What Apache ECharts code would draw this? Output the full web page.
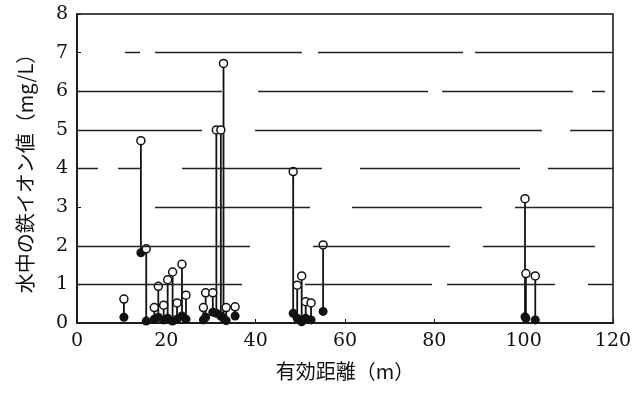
<!DOCTYPE html>
<html>
<head>
<meta charset="utf-8">
<script src="https://cdn.jsdelivr.net/npm/echarts@6/dist/echarts.min.js"></script>
<style>
  html, body { margin: 0; padding: 0; background: #fff; }
  #chart { width: 641px; height: 396px; }
</style>
</head>
<body>
<div id="chart"></div>
<script>
// effective distance (m) of each sampling point
const distances = [10.5, 14.3, 15.5, 17.3, 18.2, 19.4, 20.3, 21.4, 22.4, 23.5, 24.4,
  28.3, 28.8, 30.4, 31.2, 32.2, 32.8, 33.4, 35.4,
  48.4, 49.3, 50.3, 51.2, 52.4, 55.1,
  100.3, 100.5, 102.6];
// open circles (upper value, mg/L)
const openValues = [0.62, 4.72, 1.92, 0.40, 0.95, 0.46, 1.12, 1.32, 0.52, 1.52, 0.72,
  0.40, 0.78, 0.78, 5.0, 5.0, 6.72, 0.40, 0.42,
  3.92, 0.98, 1.22, 0.55, 0.52, 2.02,
  3.22, 1.28, 1.22];
// filled circles (lower value, mg/L)
const filledValues = [0.15, 1.82, 0.05, 0.10, 0.15, 0.08, 0.12, 0.05, 0.10, 0.18, 0.10,
  0.08, 0.15, 0.28, 0.25, 0.18, 0.12, 0.06, 0.18,
  0.25, 0.12, 0.03, 0.12, 0.08, 0.30,
  0.16, 0.12, 0.08];
const gridLevels = [1, 2, 3, 4, 5, 6, 7];

// broken horizontal rules, as dash patterns (px) along the plot width
const GRID_DASHES = {
  1: [165, 63, 127, 15, 108, 33, 25, 60],
  2: [173, 63, 137, 33, 112, 60],
  3: [0, 78, 155, 42, 130, 33, 98, 60],
  4: [21, 20, 22, 42, 140, 38, 160, 28, 65, 60],
  5: [125, 53, 287, 28, 43, 60],
  6: [145, 36, 170, 14, 131, 19, 13, 60],
  7: [0, 48, 15, 15, 147, 16, 145, 12, 138, 60],
};

const INK = '#111';
const TICK_FONT = { color: INK, fontSize: 19, fontFamily: 'DejaVu Serif' };
const CJK_FONT = 'Noto Sans CJK JP';

const chart = echarts.init(document.getElementById('chart'), null, { renderer: 'canvas' });

chart.setOption({
  animation: false,
  backgroundColor: '#fff',
  grid: {
    left: 77,
    right: 28,
    top: 14,
    bottom: 73,
    show: true,
    borderColor: INK,
    borderWidth: 1.5,
  },
  xAxis: {
    type: 'value',
    min: 0,
    max: 120,
    interval: 20,
    name: '有効距離（m）',
    nameLocation: 'middle',
    nameGap: 38,
    nameTextStyle: { color: INK, fontSize: 20, fontFamily: CJK_FONT },
    axisLine: { lineStyle: { color: INK, width: 1.5 } },
    axisTick: { inside: true, length: 4, lineStyle: { color: INK } },
    axisLabel: { ...TICK_FONT, margin: 9 },
    splitLine: { show: false },
  },
  yAxis: {
    type: 'value',
    min: 0,
    max: 8,
    interval: 1,
    name: '水中の鉄イオン値（mg/L）',
    nameLocation: 'middle',
    nameGap: 42,
    nameTextStyle: { color: INK, fontSize: 20, fontFamily: CJK_FONT },
    axisLine: { show: true, lineStyle: { color: INK, width: 1.5 } },
    axisTick: { show: true, inside: true, length: 4, lineStyle: { color: INK } },
    axisLabel: { ...TICK_FONT, margin: 9 },
    splitLine: { show: false },
  },
  series: [
    {
      // horizontal rules
      type: 'scatter',
      data: [],
      z: 1,
      silent: true,
      markLine: {
        silent: true,
        symbol: ['none', 'none'],
        label: { show: false },
        lineStyle: { color: '#222', width: 1.3, type: 'solid' },
        emphasis: { disabled: true },
        data: gridLevels.map((v) => ({ yAxis: v, lineStyle: { type: GRID_DASHES[v] } })),
      },
    },
    {
      type: 'custom',
      z: 2,
      silent: true,
      data: distances.map((d, i) => [d, filledValues[i], openValues[i]]),
      encode: { x: 0, y: [1, 2] },
      renderItem: (params, api) => {
        const p0 = api.coord([api.value(0), api.value(1)]);
        const p1 = api.coord([api.value(0), api.value(2)]);
        return {
          type: 'line',
          shape: { x1: p0[0], y1: p0[1], x2: p1[0], y2: p1[1] },
          style: { stroke: INK, lineWidth: 1.8 },
        };
      },
    },
    {
      type: 'scatter',
      z: 3,
      symbol: 'circle',
      symbolSize: 9,
      itemStyle: { color: INK, opacity: 1 },
      data: distances.map((d, i) => [d, filledValues[i]]),
    },
    {
      type: 'scatter',
      z: 4,
      symbol: 'circle',
      symbolSize: 8,
      itemStyle: { color: '#fff', borderColor: INK, borderWidth: 1.5, opacity: 1 },
      data: distances.map((d, i) => [d, openValues[i]]),
    },
  ],
});
</script>
</body>
</html>
